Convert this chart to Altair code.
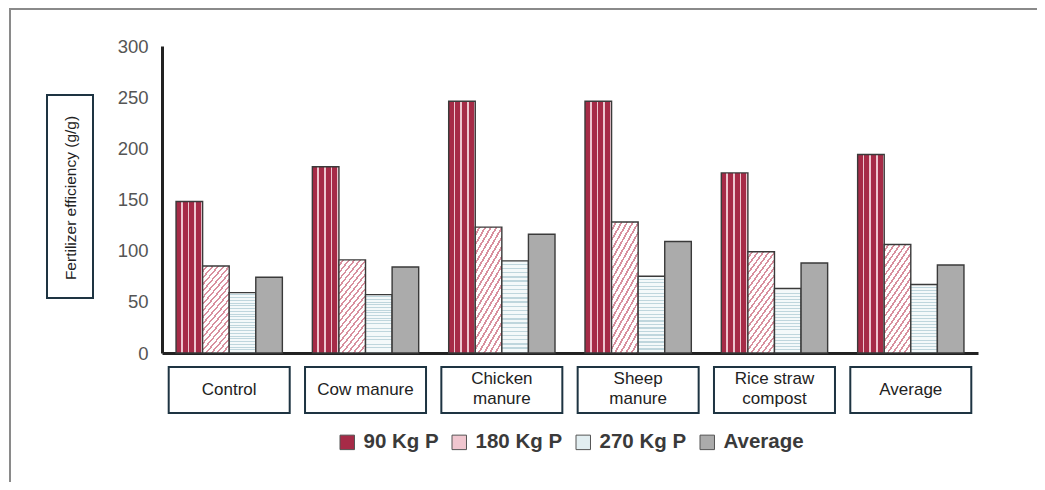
import altair as alt
import pandas as pd

# ---- data ----
categories = ["Control", "Cow manure", "Chicken manure", "Sheep manure", "Rice straw compost", "Average"]
category_labels = ["Control", "Cow manure", "Chicken\nmanure", "Sheep\nmanure", "Rice straw\ncompost", "Average"]
series = ["90 Kg P", "180 Kg P", "270 Kg P", "Average"]
p90 = [148, 182, 246, 246, 176, 194]
p180 = [85, 91, 123, 128, 99, 106]
p270 = [59, 57, 90, 75, 63, 67]
p_avg = [74, 84, 116, 109, 88, 86]
y_ticks = [0, 50, 100, 150, 200, 250, 300]
y_title = "Fertilizer efficiency (g/g)"

values_by_series = {"90 Kg P": p90, "180 Kg P": p180, "270 Kg P": p270, "Average": p_avg}
rows = []
for s in series:
    for c, v in zip(categories, values_by_series[s]):
        rows.append({"category": c, "series": s, "value": v})
df = pd.DataFrame(rows)
df_cat = pd.DataFrame({"category": categories, "label": category_labels})
one = pd.DataFrame({"k": [0]})

FONT = "Liberation Sans"


def stripes(n, frac, bg, fg, x2, y2):
    stops = []
    for i in range(n):
        o0 = i / n
        o1 = (i + 1 - frac) / n
        o2 = (i + 1) / n
        stops += [
            {"offset": o0, "color": bg},
            {"offset": o1, "color": bg},
            {"offset": o1, "color": fg},
            {"offset": o2, "color": fg},
        ]
    return {"gradient": "linear", "x1": 0, "y1": 0, "x2": x2, "y2": y2, "stops": stops}


fills = {
    "90 Kg P": stripes(4, 0.24, "#A62B47", "#EDC6CF", 1, 0),
    "180 Kg P": stripes(18, 0.35, "#FFFFFF", "#D8909F", 0.433, 1.204),
    "270 Kg P": stripes(22, 0.32, "#F4F9FA", "#BFD6DD", 0, 1),
    "Average": "#ABABAB",
}
legend_colors = ["#A62B47", "#F0C6CF", "#E2EEF1", "#ABABAB"]

x_enc = alt.X(
    "category:N",
    scale=alt.Scale(domain=categories, paddingInner=0.22, paddingOuter=0.103),
    axis=alt.Axis(labels=False, ticks=False, title=None, domainColor="#222222", domainWidth=3),
    sort=categories,
)
y_enc = alt.Y(
    "value:Q",
    scale=alt.Scale(domain=[0, 300], nice=False),
    axis=alt.Axis(values=y_ticks, grid=False, ticks=False, title=None, labelFontSize=18.5,
                  labelColor="#555555", labelFont=FONT, labelPadding=14,
                  domainColor="#222222", domainWidth=3),
)
xoff = alt.XOffset("series:N", scale=alt.Scale(domain=series))

# decorative frame and y title box
frame = alt.Chart(one).mark_rect(fill=None, stroke="#8A8A8A", strokeWidth=2).encode(
    x=alt.value(-152), x2=alt.value(2000), y=alt.value(-37), y2=alt.value(2000)
)
title_box = alt.Chart(one).mark_rect(fill="white", stroke="#1E3442", strokeWidth=2).encode(
    x=alt.value(-115), x2=alt.value(-69), y=alt.value(49), y2=alt.value(252)
)
title_text = alt.Chart(one).mark_text(angle=270, fontSize=15.5, font=FONT, color="#222222",
                                      align="center", baseline="middle").encode(
    x=alt.value(-91), y=alt.value(152), text=alt.value(y_title)
)

# category label boxes
cat_boxes = alt.Chart(df_cat).mark_bar(width=121, fill="white", stroke="#1E3442", strokeWidth=2).encode(
    x=x_enc, y=alt.value(321), y2=alt.value(367)
)
text_style = dict(fontSize=17, font=FONT, color="#222222", lineBreak="\n",
                  lineHeight=20, align="center", baseline="middle")
cat_text_one = alt.Chart(df_cat).transform_filter("indexof(datum.label, '\\n') < 0").mark_text(**text_style).encode(
    x=x_enc, y=alt.value(344), text="label:N"
)
cat_text_two = alt.Chart(df_cat).transform_filter("indexof(datum.label, '\\n') >= 0").mark_text(**text_style).encode(
    x=x_enc, y=alt.value(333), text="label:N"
)

# legend carrier (hidden under the patterned bars)
legend_layer = alt.Chart(df).mark_bar().encode(
    x=x_enc, xOffset=xoff, y=y_enc,
    color=alt.Color("series:N", scale=alt.Scale(domain=series, range=legend_colors),
                    legend=alt.Legend(orient="none", legendX=175, legendY=386, direction="horizontal",
                                      title=None, symbolType="square", symbolSize=210,
                                      symbolStrokeColor="#555555", symbolStrokeWidth=1,
                                      labelFontSize=20.5, labelFontWeight="bold", labelColor="#3A3A3A",
                                      labelFont=FONT, labelOffset=6, columnPadding=10, padding=0,
                                      labelExpr="datum.label == 'Average' ? '\u00a0\u00a0\u00a0Average' : datum.label")),
)

bar_layers = []
for s in series:
    bar_layers.append(
        alt.Chart(df).transform_filter(alt.datum.series == s)
        .mark_bar(fill=fills[s], stroke="#3A3A3A", strokeWidth=1.4)
        .encode(x=x_enc, xOffset=xoff, y=y_enc)
    )

chart = alt.layer(frame, title_box, title_text, cat_boxes, cat_text_one, cat_text_two,
                  legend_layer, *bar_layers).properties(
    width=816, height=307,
    autosize=alt.AutoSizeParams(type="none"),
    padding={"left": 154, "top": 38, "right": 59, "bottom": 129},
    background="white",
).configure_view(stroke=None)

chart.save("out.html", embed_options={"renderer": "svg", "actions": False})
